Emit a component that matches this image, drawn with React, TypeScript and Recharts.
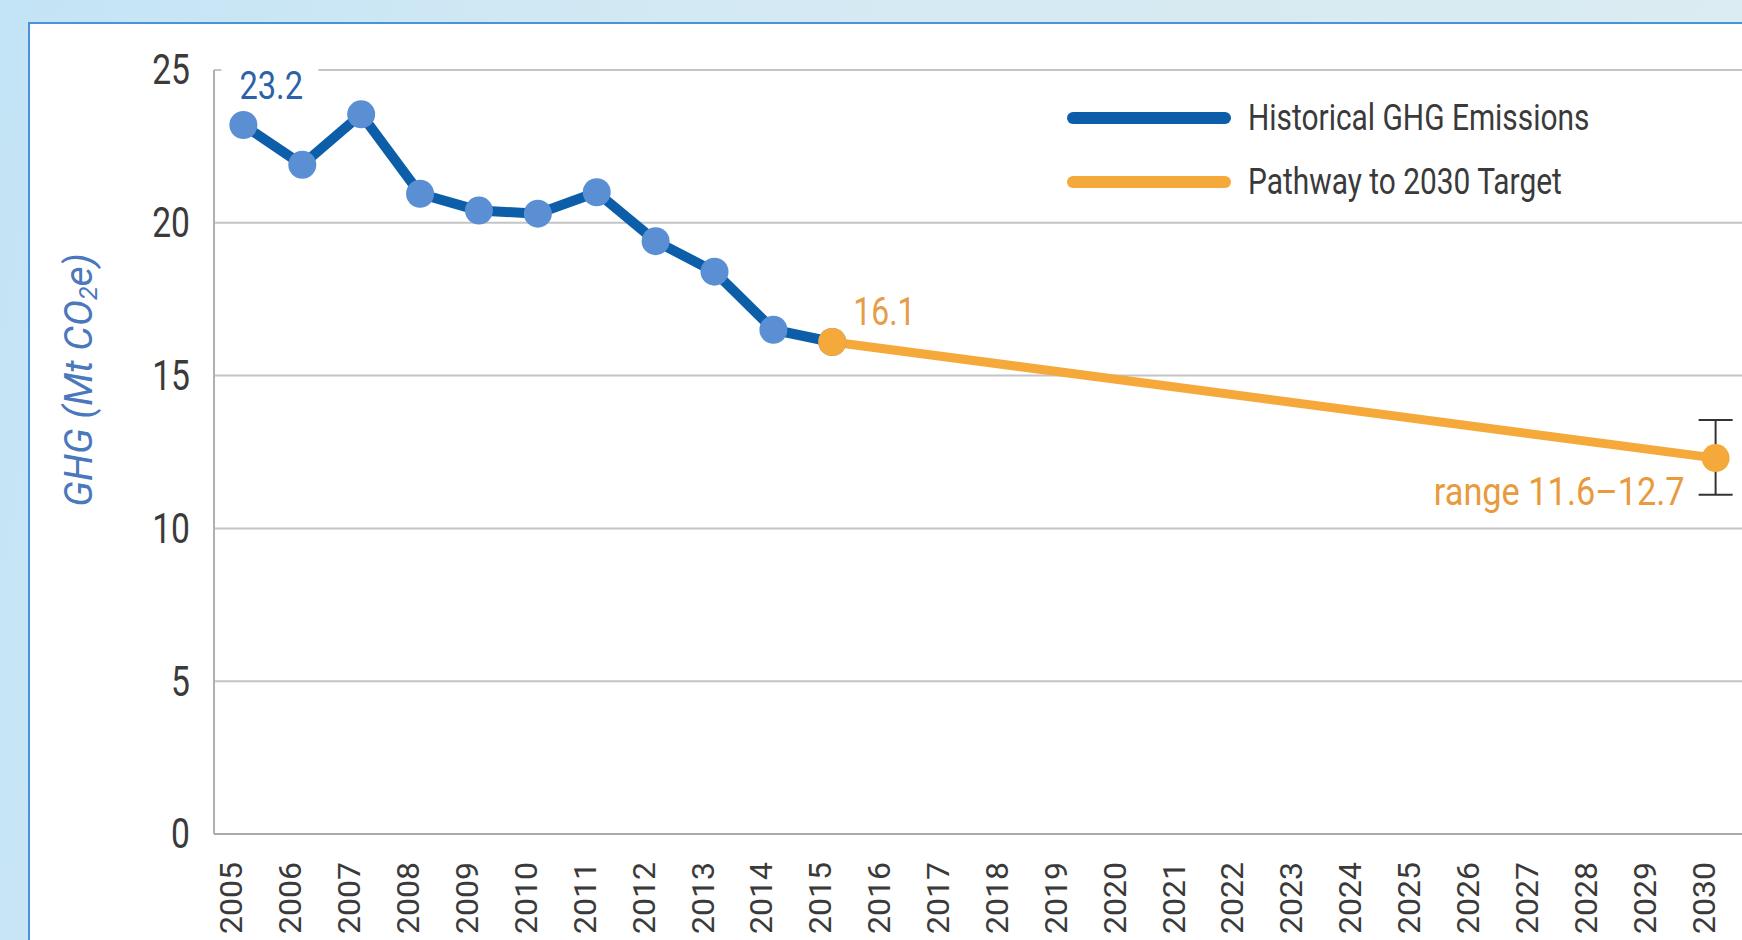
import React from 'react';
import { LineChart, Line, XAxis, YAxis, CartesianGrid, Legend, LabelList, ErrorBar } from 'recharts';

const years = ['2005','2006','2007','2008','2009','2010','2011','2012','2013','2014','2015','2016','2017','2018','2019','2020','2021','2022','2023','2024','2025','2026','2027','2028','2029','2030'];
const historical = [23.2, 21.9, 23.55, 20.95, 20.4, 20.3, 21.0, 19.4, 18.4, 16.5, 16.1, null, null, null, null, null, null, null, null, null, null, null, null, null, null, null];
const pathway = [null, null, null, null, null, null, null, null, null, null, 16.1, null, null, null, null, null, null, null, null, null, null, null, null, null, null, 12.3];
const pathwayError = [null, null, null, null, null, null, null, null, null, null, null, null, null, null, null, null, null, null, null, null, null, null, null, null, null, [1.2, 1.25]];
const yTicks = [0, 5, 10, 15, 20, 25];
const targetRange = [11.6, 12.7];
const seriesNames = ['Historical GHG Emissions', 'Pathway to 2030 Target'];

const data = years.map((year, i) => ({
  year,
  historical: historical[i],
  pathway: pathway[i],
  pathwayError: pathwayError[i],
}));

const FONT = 'Roboto, "Liberation Sans", sans-serif';
const BLUE = '#0c5ea9';
const BLUE_DOT = '#5b8fd4';
const ORANGE = '#f6a93b';
const TEXT = '#3a3a3a';

const YTick = (props: any) => {
  const { x, y, payload } = props;
  return (
    <g transform={`translate(${x},${y}) scale(0.8,1)`}>
      <text x={0} y={0} textAnchor="end" dominantBaseline="central" fontFamily={FONT} fontSize={42} fill={TEXT}>
        {payload.value}
      </text>
    </g>
  );
};

const XTick = (props: any) => {
  const { x, y, payload } = props;
  return (
    <g transform={`translate(${x - 1},${y}) rotate(-90)`}>
      <text x={0} y={0} textAnchor="end" fontFamily={FONT} fontSize={32} fill={TEXT}>
        {payload.value}
      </text>
    </g>
  );
};

const YTitle = (props: any) => {
  const { viewBox } = props;
  const cx = viewBox.x + 79;
  const cy = viewBox.y + 310;
  return (
    <text
      transform={`translate(${cx},${cy}) rotate(-90)`}
      textAnchor="middle"
      dominantBaseline="central"
      fontFamily={FONT}
      fontStyle="italic"
      fontSize={39}
      fill="#4a78bd"
    >
      GHG (Mt CO<tspan fontSize={25} dy={9}>2</tspan><tspan dy={-9}>e)</tspan>
    </text>
  );
};

const HistLabel = (props: any) => {
  const { x, y, value, index } = props;
  if (index !== 0 || value == null) return null;
  return (
    <g>
      <rect x={x - 22} y={y - 68} width={97} height={26} fill="#ffffff" />
      <g transform={`translate(${x - 4},${y - 39}) scale(0.86,1)`}>
        <text x={0} y={0} dominantBaseline="central" fontFamily={FONT} fontSize={38} fill="#2a63a8">
          {value}
        </text>
      </g>
    </g>
  );
};

const PathLabel = (props: any) => {
  const { x, y, value, index } = props;
  if (value == null) return null;
  if (years[index] === '2015') {
    return (
      <g transform={`translate(${x + 21},${y - 30}) scale(0.84,1)`}>
        <text x={0} y={0} dominantBaseline="central" fontFamily={FONT} fontSize={38} fill="#e79c48">
          {value}
        </text>
      </g>
    );
  }
  if (years[index] === '2030') {
    return (
      <g transform={`translate(${x - 31},${y + 34}) scale(0.88,1)`}>
        <text x={0} y={0} textAnchor="end" dominantBaseline="central" fontFamily={FONT} fontSize={39} fill="#e89a3c">
          {`range ${targetRange[0]}–${targetRange[1]}`}
        </text>
      </g>
    );
  }
  return null;
};

const LegendContent = (props: any) => {
  const { payload } = props;
  return (
    <div style={{ fontFamily: FONT }}>
      {(payload || []).map((item: any) => (
        <div key={item.value} style={{ height: 64, display: 'flex', alignItems: 'center' }}>
          <span style={{ display: 'inline-block', width: 164, height: 12, borderRadius: 6, background: item.color, marginRight: 17 }} />
          <span style={{ display: 'inline-block', fontSize: 36, color: TEXT, whiteSpace: 'nowrap', transform: 'scaleX(0.83)', transformOrigin: 'left center' }}>
            {item.value}
          </span>
        </div>
      ))}
    </div>
  );
};

export default function App() {
  return (
    <div
      style={{
        position: 'fixed',
        left: 0,
        top: 0,
        width: 1742,
        height: 940,
        overflow: 'hidden',
        background: 'linear-gradient(100deg, #c3e4f6 0%, #d3e9f3 35%, #dcecf2 100%)',
      }}
    >
      <div
        style={{
          position: 'absolute',
          left: 28,
          top: 22,
          width: 1800,
          height: 1000,
          background: '#ffffff',
          borderLeft: '2px solid #4a93dc',
          borderTop: '2px solid #4a93dc',
          boxSizing: 'border-box',
        }}
      />
      <div style={{ position: 'absolute', left: 0, top: 0 }}>
        <LineChart width={1760} height={940} data={data} margin={{ top: 70, right: 15, left: 0, bottom: 0 }}>
          <CartesianGrid vertical={false} stroke="#c4c4c4" strokeWidth={2} />
          <XAxis
            dataKey="year"
            interval={0}
            padding={{ left: 29.4, right: 29.4 }}
            height={106}
            tickLine={false}
            tickSize={0}
            tickMargin={28}
            axisLine={{ stroke: '#a9a9a9', strokeWidth: 2 }}
            tick={<XTick />}
          />
          <YAxis
            domain={[0, 25]}
            ticks={yTicks}
            width={214}
            tickLine={false}
            tickSize={0}
            tickMargin={24}
            axisLine={{ stroke: '#b0b0b0', strokeWidth: 2 }}
            tick={<YTick />}
            label={{ content: <YTitle /> } as any}
          />
          <Legend
            layout="horizontal"
            verticalAlign="middle"
            align="center"
            content={<LegendContent />}
            wrapperStyle={{ position: 'absolute', left: 1067, top: 86, width: 640, height: 128 }}
          />
          <Line
            name={seriesNames[0]}
            dataKey="historical"
            stroke={BLUE}
            strokeWidth={10}
            strokeLinejoin="round"
            dot={{ r: 14, fill: BLUE_DOT, stroke: 'none', strokeWidth: 0 }}
            activeDot={false}
            isAnimationActive={false}
          >
            <LabelList dataKey="historical" content={<HistLabel />} />
          </Line>
          <Line
            name={seriesNames[1]}
            dataKey="pathway"
            stroke={ORANGE}
            strokeWidth={9}
            connectNulls
            dot={{ r: 14, fill: ORANGE, stroke: 'none', strokeWidth: 0 }}
            activeDot={false}
            isAnimationActive={false}
          >
            <ErrorBar dataKey="pathwayError" width={17} stroke="#333333" strokeWidth={2} direction="y" />
            <LabelList dataKey="pathway" content={<PathLabel />} />
          </Line>
        </LineChart>
      </div>
    </div>
  );
}
